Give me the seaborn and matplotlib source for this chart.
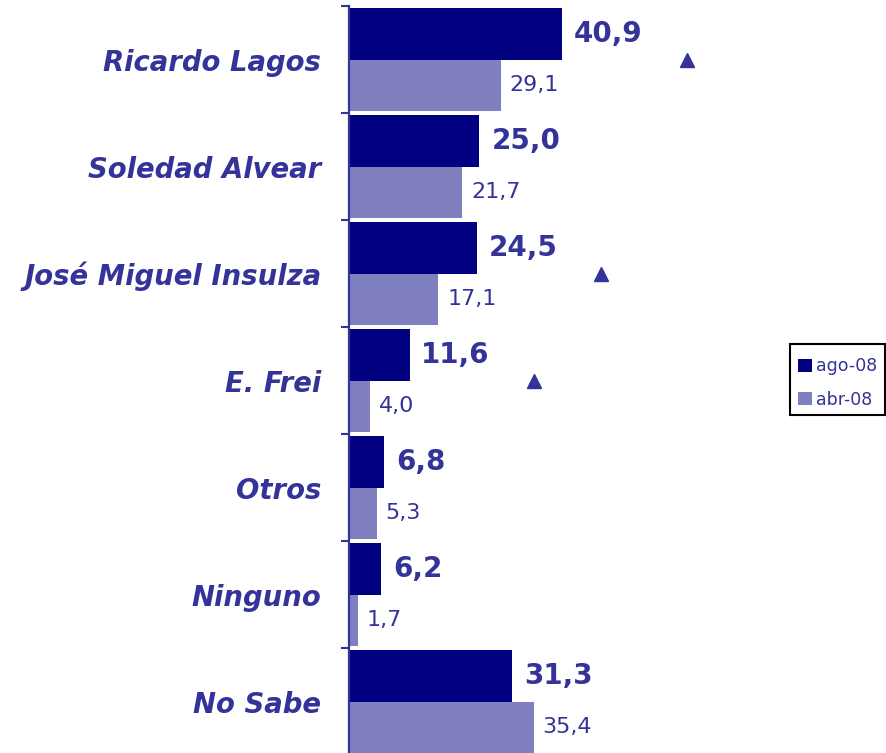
import numpy as np
import pandas as pd
import matplotlib
matplotlib.use("Agg")
import matplotlib.pyplot as plt
from matplotlib.patches import Patch, Rectangle
import seaborn as sns

# --- data ---
categories = ["Ricardo Lagos", "Soledad Alvear", "José Miguel Insulza",
              "E. Frei", "Otros", "Ninguno", "No Sabe"]
series = ["ago-08", "abr-08"]
ago_08 = [40.9, 25.0, 24.5, 11.6, 6.8, 6.2, 31.3]
abr_08 = [29.1, 21.7, 17.1, 4.0, 5.3, 1.7, 35.4]
# candidates with a significant rise since the previous survey
rising = ["Ricardo Lagos", "José Miguel Insulza", "E. Frei"]

# --- style ---
DARK = "#000080"
LIGHT = "#8080C0"
TEXT = "#333399"

sns.set_style("white")
plt.rcParams["font.family"] = ["DejaVu Sans"]

df = pd.DataFrame({
    "candidato": categories * 2,
    "valor": ago_08 + abr_08,
    "serie": [series[0]] * len(categories) + [series[1]] * len(categories),
})

W, H = 886, 753
fig = plt.figure(figsize=(W / 100, H / 100), dpi=100)
ax = fig.add_axes([349 / W, -2 / H, 431 / W, 749 / H])

sns.barplot(data=df, y="candidato", x="valor", hue="serie",
            hue_order=series, order=categories, orient="h",
            palette=[DARK, LIGHT], saturation=1, width=0.97,
            linewidth=0, edgecolor="none", legend=False, ax=ax)

ax.set_xlim(0, 82.6)
ax.set_ylim(len(categories) - 0.5, -0.5)

# value labels: bold for the current wave, regular for the previous one
fmt = lambda v: f"{v:.1f}".replace(".", ",")
ax.bar_label(ax.containers[0], labels=[fmt(v) for v in ago_08],
             padding=8.5, fontsize=20, fontweight="bold", color=TEXT)
ax.bar_label(ax.containers[1], labels=[fmt(v) for v in abr_08],
             padding=6.5, fontsize=16, color=TEXT)

# up-arrow markers next to rising candidates
for name in rising:
    i = categories.index(name)
    ax.plot(ago_08[i] + 23.8, i, marker="^", markersize=10,
            color=TEXT, linestyle="none", clip_on=False)

# axes styling
for s in ("top", "right", "bottom"):
    ax.spines[s].set_visible(False)
ax.spines["left"].set_color(TEXT)
ax.spines["left"].set_linewidth(1.6)
ax.set_xticks([])
ax.set_xlabel("")
ax.set_ylabel("")
ax.set_yticks(range(len(categories)))
ax.set_yticklabels(categories, fontsize=19.8, fontweight="bold",
                   fontstyle="italic", color=TEXT)
ax.tick_params(axis="y", which="major", length=0, pad=20)
ax.set_yticks(np.arange(-0.5, len(categories), 1), minor=True)
ax.tick_params(axis="y", which="minor", left=True, length=6, width=1.5,
               color=TEXT, direction="out")

# legend: entries without frame, plus a separate box around them
handles = [Patch(facecolor=DARK, edgecolor="none"),
           Patch(facecolor=LIGHT, edgecolor="none")]
fig.legend(handles, series, loc="center left",
           bbox_to_anchor=(798 / W, 1 - 383 / H),
           prop={"family": "DejaVu Sans", "size": 12.5},
           labelcolor=TEXT, frameon=False, handlelength=0.8,
           handleheight=0.8, handletextpad=0.25, borderpad=0,
           labelspacing=0.9, borderaxespad=0)
fig.patches.append(Rectangle((790 / W, 1 - 415 / H), 95 / W, 71 / H,
                             transform=fig.transFigure, fill=False,
                             edgecolor="black", linewidth=1.5))

fig.savefig("out.png", dpi=100)
